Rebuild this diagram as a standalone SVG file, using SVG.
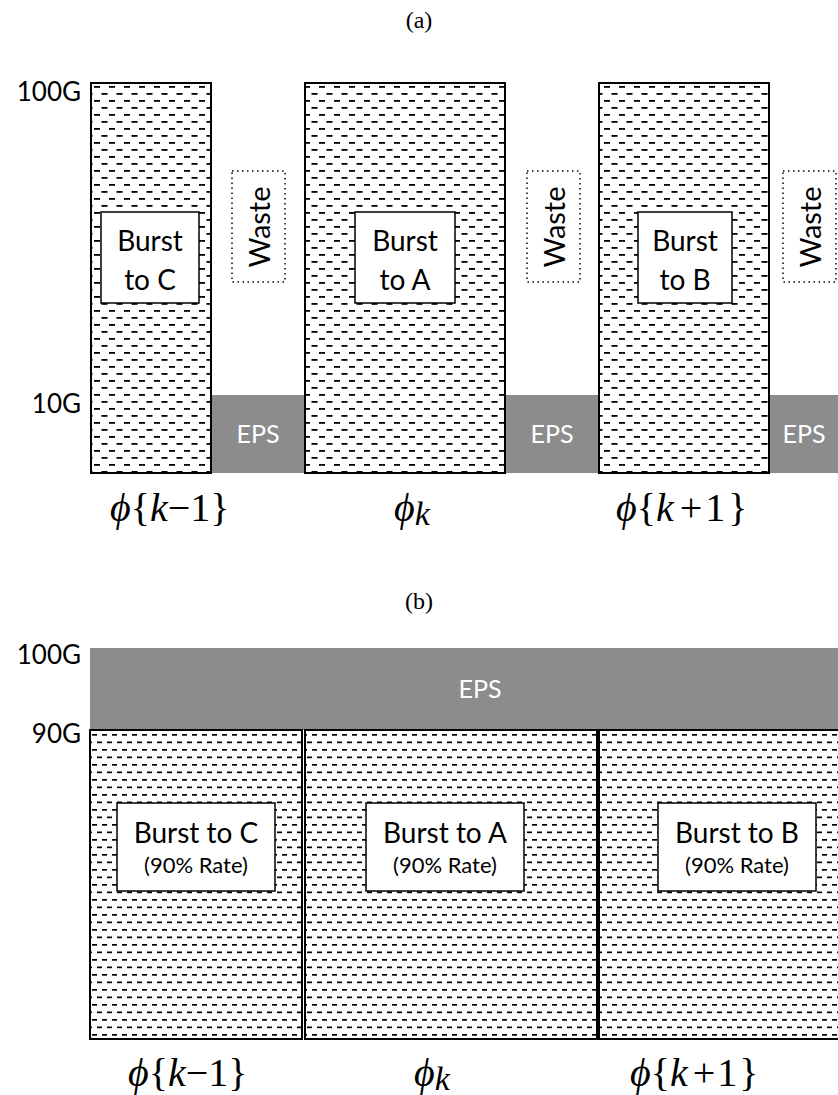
<svg xmlns="http://www.w3.org/2000/svg" width="838" height="1095" viewBox="0 0 838 1095">
<style>
.lbl{font-family:Lato,"Open Sans",sans-serif;font-size:26px;fill:#000}
.box{fill:#fff;stroke:#000;stroke-width:1.5}
.btxt{font-family:Lato,"Open Sans",sans-serif;font-size:28px;fill:#000;text-anchor:middle}
.wtxt{font-family:Lato,"Open Sans",sans-serif;font-size:29px;fill:#000;text-anchor:middle}
.small{font-family:Lato,"Open Sans",sans-serif;font-size:22px;fill:#000;text-anchor:middle}
.eps{fill:#8c8c8c}
.epst{font-family:Lato,"Open Sans",sans-serif;font-size:25px;fill:#fff;text-anchor:middle}
.bar{stroke:#000;stroke-width:2}
.waste{fill:none;stroke:#000;stroke-width:1.5;stroke-dasharray:1.5 3.5}
.cap{font-family:"Liberation Serif",serif;font-size:24px;fill:#000;text-anchor:middle}
.math{font-family:"Liberation Serif","Times New Roman","DejaVu Serif",serif;font-size:40px;fill:#000}
.it{font-style:italic}
</style>
<defs>
<pattern id="hA" patternUnits="userSpaceOnUse" x="91" y="83" width="15" height="14">
<rect width="15" height="14" fill="#fff"/>
<rect x="3" y="3" width="6" height="1.8" fill="#000"/>
<rect x="10.5" y="10" width="6" height="1.8" fill="#000"/>
<rect x="-4.5" y="10" width="6" height="1.8" fill="#000"/>
</pattern>
<pattern id="hB" patternUnits="userSpaceOnUse" x="90" y="730" width="10" height="15">
<rect width="10" height="15" fill="#fff"/>
<rect x="2" y="4" width="5" height="1.7" fill="#000"/>
<rect x="7" y="11.5" width="5" height="1.7" fill="#000"/>
<rect x="-3" y="11.5" width="5" height="1.7" fill="#000"/>
</pattern>
</defs>

<g id="panel-a">
<text class="cap" x="419" y="28">(a)</text>
<text class="lbl" x="81" y="101" text-anchor="end">100G</text>
<text class="lbl" x="81" y="413" text-anchor="end">10G</text>

<g id="eps-a1"><rect class="eps" x="211" y="395" width="94" height="78"/><text class="epst" x="258" y="443">EPS</text></g>
<g id="eps-a2"><rect class="eps" x="505" y="395" width="94" height="78"/><text class="epst" x="552" y="443">EPS</text></g>
<g id="eps-a3"><rect class="eps" x="769" y="395" width="69" height="78"/><text class="epst" x="804" y="443">EPS</text></g>

<g id="bar-a1"><rect class="bar" x="91" y="83" width="120" height="390" fill="url(#hA)"/>
<rect class="box" x="101" y="212" width="98" height="91"/>
<text class="btxt" x="150" y="251">Burst</text><text class="btxt" x="150" y="290">to C</text></g>
<g id="bar-a2"><rect class="bar" x="305" y="83" width="200" height="390" fill="url(#hA)"/>
<rect class="box" x="355" y="212" width="100" height="91"/>
<text class="btxt" x="405" y="251">Burst</text><text class="btxt" x="405" y="290">to A</text></g>
<g id="bar-a3"><rect class="bar" x="599" y="83" width="170" height="390" fill="url(#hA)"/>
<rect class="box" x="638" y="212" width="94" height="91"/>
<text class="btxt" x="685" y="251">Burst</text><text class="btxt" x="685" y="290">to B</text></g>

<g id="waste-a1"><rect class="waste" x="232" y="171" width="53" height="111"/>
<text class="wtxt" transform="translate(270,227) rotate(-90)">Waste</text></g>
<g id="waste-a2"><rect class="waste" x="527" y="171" width="53" height="111"/>
<text class="wtxt" transform="translate(565,227) rotate(-90)">Waste</text></g>
<g id="waste-a3"><rect class="waste" x="783" y="171" width="53" height="111"/>
<text class="wtxt" transform="translate(821,227) rotate(-90)">Waste</text></g>

<text class="math" x="110" y="521"><tspan class="it">ϕ</tspan>{<tspan class="it">k</tspan>−1}</text>
<text class="math" x="394" y="521"><tspan class="it">ϕ</tspan><tspan class="it" font-size="34" dy="4">k</tspan></text>
<text class="math" x="616" y="521"><tspan class="it">ϕ</tspan>{<tspan class="it">k</tspan><tspan dx="6">+</tspan><tspan dx="3">1</tspan><tspan dx="3">}</tspan></text>
</g>

<g id="panel-b">
<text class="cap" x="419" y="609">(b)</text>
<text class="lbl" x="81" y="664" text-anchor="end">100G</text>
<text class="lbl" x="81" y="743" text-anchor="end">90G</text>

<g id="eps-b"><rect class="eps" x="90" y="648" width="748" height="82"/><text class="epst" x="480" y="698">EPS</text></g>

<g id="bar-b1"><rect class="bar" x="90" y="730" width="212" height="309" fill="url(#hB)"/>
<rect class="box" x="117" y="803" width="158" height="88"/>
<text class="btxt" x="196" y="843">Burst to C</text><text class="small" x="196" y="873">(90% Rate)</text></g>
<g id="bar-b2"><rect class="bar" x="305" y="730" width="292" height="309" fill="url(#hB)"/>
<rect class="box" x="366" y="803" width="158" height="88"/>
<text class="btxt" x="445" y="843">Burst to A</text><text class="small" x="445" y="873">(90% Rate)</text></g>
<g id="bar-b3"><rect class="bar" x="599" y="730" width="245" height="309" fill="url(#hB)"/>
<rect class="box" x="658" y="803" width="158" height="88"/>
<text class="btxt" x="737" y="843">Burst to B</text><text class="small" x="737" y="873">(90% Rate)</text></g>

<text class="math" x="128" y="1086"><tspan class="it">ϕ</tspan>{<tspan class="it">k</tspan>−1}</text>
<text class="math" x="414" y="1086"><tspan class="it">ϕ</tspan><tspan class="it" font-size="34" dy="4">k</tspan></text>
<text class="math" x="630" y="1086"><tspan class="it">ϕ</tspan>{<tspan class="it">k</tspan><tspan dx="5">+</tspan><tspan dx="2">1</tspan><tspan dx="2">}</tspan></text>
</g>
</svg>
